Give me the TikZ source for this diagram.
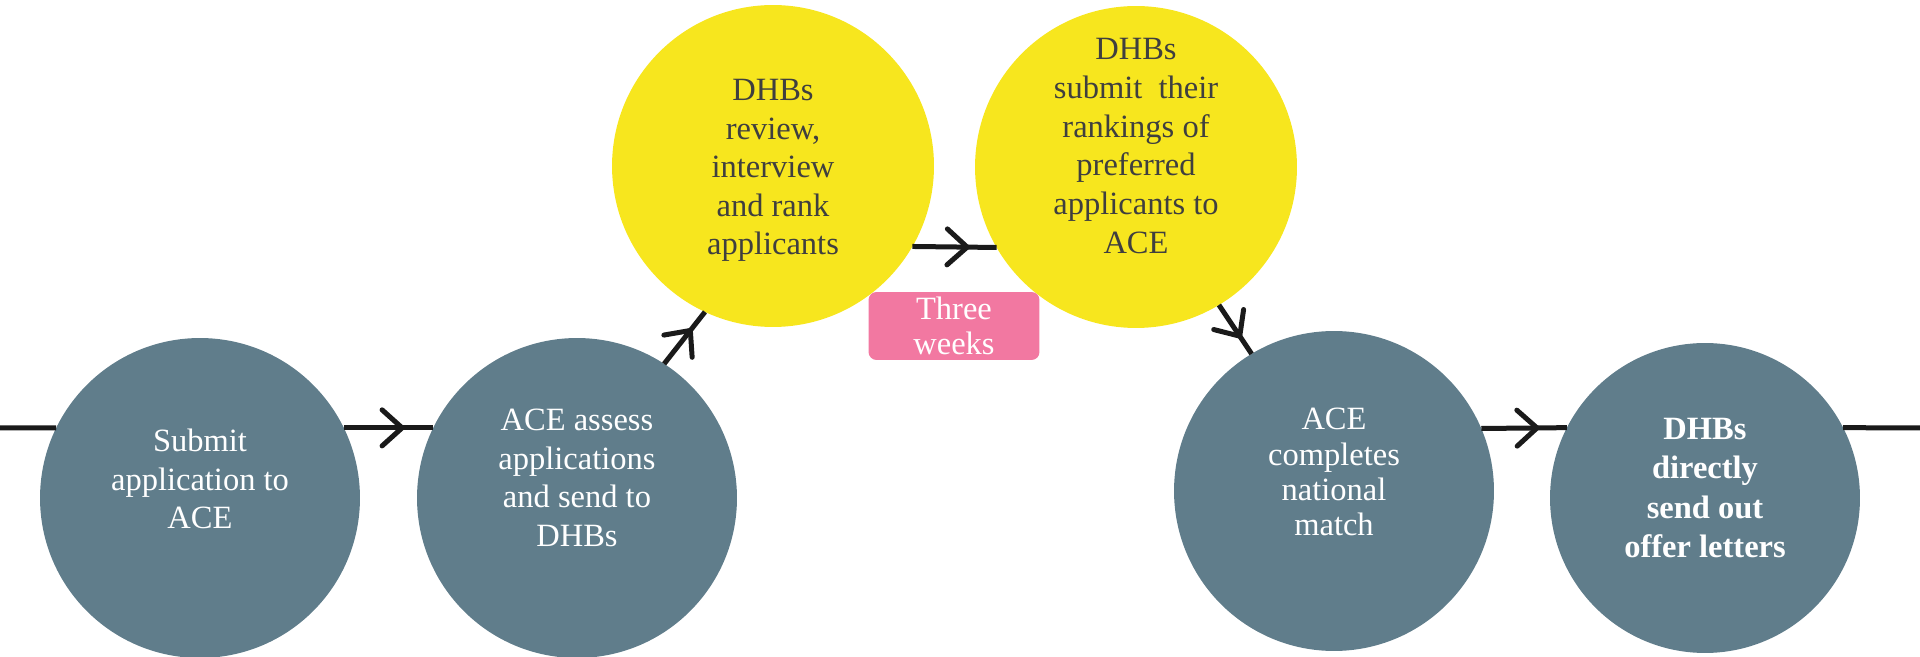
\documentclass[tikz,border=0pt]{standalone}
\usepackage{fontspec}
\setmainfont{Liberation Serif}
\usepackage{tikz}
\usetikzlibrary{arrows.meta,decorations.markings}

\definecolor{stepgray}{HTML}{607D8B}
\definecolor{stepyellow}{HTML}{F7E61E}
\definecolor{weekpink}{HTML}{F278A1}
\definecolor{darktext}{HTML}{3F3F3F}
\definecolor{linecol}{HTML}{1A1A1A}

\tikzset{
  graycirc/.style={circle,fill=stepgray,minimum size=6.4cm,inner sep=0pt,outer sep=0pt},
  yellowcirc/.style={circle,fill=stepyellow,minimum size=6.44cm,inner sep=0pt,outer sep=0pt},
  wtxt/.style={align=center,text=white,font=\fontsize{18.5}{22}\selectfont},
  dtxt/.style={align=center,text=darktext,font=\fontsize{18.5}{22}\selectfont},
  line/.style={draw=linecol,line width=0.1cm},
  flow/.style={line,postaction={decorate},
    decoration={markings,mark=at position 0.68 with
      {\arrow{Straight Barb[length=0.4cm,width=0.72cm,round]}}}}
}

\begin{document}
\begin{tikzpicture}[x=0.02cm,y=0.02cm]
  \useasboundingbox (0,0) rectangle (1920,656);

  % circles of the steps
  \node[graycirc] (c1) at (200,158) {};
  \node[graycirc] (c2) at (577,158) {};
  \node[yellowcirc] (y1) at (773,490) {};
  \node[yellowcirc] (y2) at (1136,489) {};
  \node[graycirc] (c4) at (1334,165) {};
  \node[graycirc,minimum size=6.2cm] (c5) at (1705,158) {};

  % texts
  \node[wtxt] (c1t) at ([yshift=0.38cm]c1.center) {Submit\\application to\\ACE};
  \node[wtxt] (c2t) at ([yshift=0.4cm]c2.center) {ACE assess\\applications\\and send to\\DHBs};
  \node[dtxt] (y1t) at ([yshift=-0.09cm]y1.center) {DHBs\\review,\\interview\\and rank\\applicants};
  \node[dtxt] (y2t) at ([yshift=0.42cm]y2.center) {DHBs\\submit\ \ their\\rankings of\\preferred\\applicants to\\ACE};
  \node[wtxt,font=\fontsize{18.5}{20}\selectfont] (c4t) at ([yshift=0.38cm]c4.center) {ACE\\completes\\national\\match};
  \node[wtxt,font=\bfseries\fontsize{18.5}{22.5}\selectfont] (c5t) at ([yshift=0.2cm]c5.center) {DHBs\\directly\\send out\\offer letters};

  % the pink note
  \node[fill=weekpink,rounded corners=0.16cm,minimum width=3.42cm,minimum height=1.36cm,
        inner sep=0pt,wtxt,font=\fontsize{18.5}{20}\selectfont] (weeks) at (954,330) {Three\\weeks};

  % connectors
  \coordinate (in) at (0,228);
  \coordinate (out) at (1920,228);
  \draw[line] (in) -- (c1.154);
  \foreach \a/\b in {c1.26/c2.154, c2.57/y1.245, y1.330/y2.210, y2.301/c4.121, c4.23/c5.153}
    \draw[flow] (\a) -- (\b);
  \draw[line] (c5.27) -- (out);
\end{tikzpicture}
\end{document}
